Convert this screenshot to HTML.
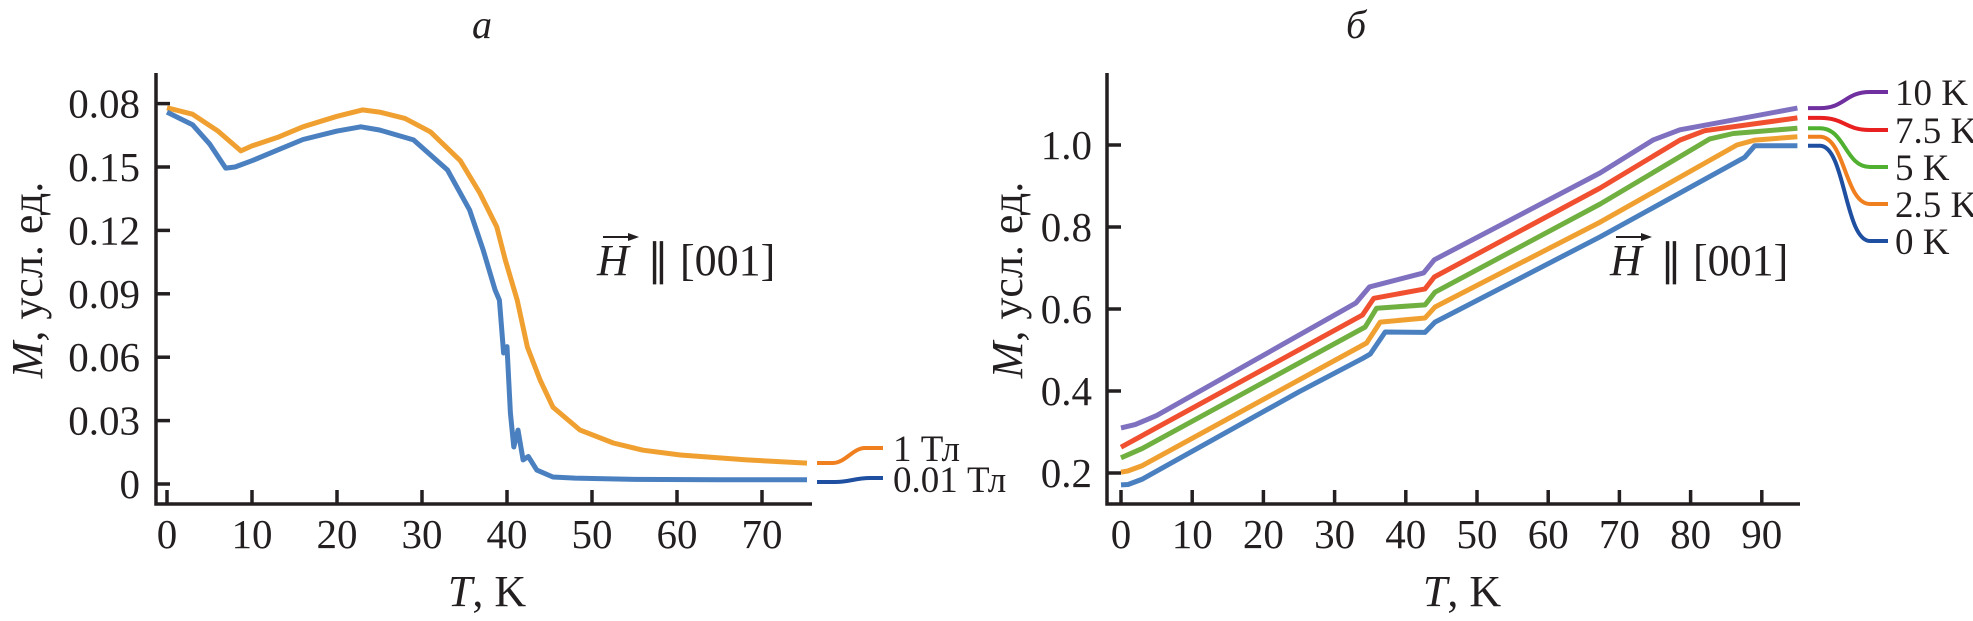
<!DOCTYPE html>
<html><head><meta charset="utf-8"><style>
html,body{margin:0;padding:0;background:#fff}
svg{display:block}
text{font-family:"Liberation Serif",serif;fill:#231f20}
</style></head><body>
<svg id="c" width="1973" height="621" viewBox="0 0 1973 621" xmlns="http://www.w3.org/2000/svg"></svg>
<script>
// ---- Panel a data ----
const aXTicks=[0,10,20,30,40,50,60,70];
const aYTickVals=[0,0.03,0.06,0.09,0.12,0.15,0.18];
const aYTickLabels=["0","0.03","0.06","0.09","0.12","0.15","0.08"];
const aT1=[0,3,6,8.7,10,13,16,20,23,25,28,31,34.5,36.8,38.8,39.8,41.2,42.4,43.9,45.4,48.6,52.5,56,60.4,68.2,75.3];
const aM1=[0.178,0.175,0.167,0.1576,0.160,0.164,0.169,0.174,0.177,0.176,0.173,0.1666,0.153,0.1377,0.1216,0.106,0.087,0.0648,0.0492,0.0364,0.0255,0.0194,0.016,0.0137,0.0114,0.0099];
const aT2=[0,3,5,6.9,8,10,13,16,20,22.8,25,29,33,35.6,37.2,38.6,39.1,39.6,40,40.4,40.8,41.3,41.9,42.5,43.5,45.4,48,55,65,75.3];
const aM2=[0.176,0.170,0.161,0.1495,0.150,0.153,0.158,0.163,0.167,0.169,0.1675,0.1628,0.1486,0.1297,0.1107,0.0918,0.087,0.062,0.065,0.0336,0.0175,0.0255,0.0114,0.013,0.0066,0.0033,0.0028,0.0022,0.002,0.002];
// ---- Panel b data ----
const bXTicks=[0,10,20,30,40,50,60,70,80,90];
const bYTicks=[0.2,0.4,0.6,0.8,1.0];
const bYTickLabels=["0.2","0.4","0.6","0.8","1.0"];
const bT0=[0,1,3,25,34,35,37.1,42.7,44.1,67.3,87.6,89,95];
const bM0=[0.171,0.172,0.185,0.398,0.48,0.49,0.544,0.543,0.568,0.776,0.97,0.998,0.998];
const bT25=[0,1,3,34.5,36.4,42.7,44.1,67.3,86.5,89,95];
const bM25=[0.202,0.205,0.218,0.517,0.568,0.578,0.605,0.812,1.0,1.012,1.02];
const bT5=[0,3,34.3,35.9,42.7,44.1,67.3,82.7,86,95];
const bM5=[0.237,0.26,0.556,0.602,0.61,0.641,0.856,1.015,1.028,1.041];
const bT75=[0,33.9,35.5,42.7,44,67.3,78.5,82,95];
const bM75=[0.263,0.585,0.626,0.649,0.678,0.895,1.012,1.035,1.066];
const bT10=[0,2,5,33,34.9,42.5,44,67.3,74.7,78.5,95];
const bM10=[0.31,0.318,0.34,0.615,0.654,0.688,0.72,0.932,1.012,1.037,1.09];
const bLabels=["0 K","2.5 K","5 K","7.5 K","10 K"];

const NS="http://www.w3.org/2000/svg";
const svg=document.getElementById('c');
function el(tag,attrs,parent){const e=document.createElementNS(NS,tag);for(const k in attrs)e.setAttribute(k,attrs[k]);(parent||svg).appendChild(e);return e;}
function txt(s,attrs,parent){const e=el('text',attrs,parent);e.textContent=s;return e;}

const axA=t=>167+t*8.5;
const ayA=v=>484-v/0.03*63.4;
const axB=t=>1121+t*7.12;
const ayB=v=>473-(v-0.2)*410;
const TF=41;

function pathFrom(T,M,fx,fy){return T.map((t,i)=>(i?'L':'M')+fx(t).toFixed(1)+' '+fy(M[i]).toFixed(1)).join(' ');}

// ---------- Panel a ----------
const ga=el('g',{});


const t1=txt('а',{x:482,y:38,'font-size':40,'font-style':'italic','text-anchor':'middle'},ga);

const axa=el('path',{d:'M156 73 V504 H812',stroke:'#231f20','stroke-width':3.5,fill:'none'},ga);

aYTickVals.forEach((v,i)=>{
  const y=ayA(v);
  const tk=el('line',{x1:156,x2:170,y1:y,y2:y,stroke:'#231f20','stroke-width':3.5},ga);
  
  const l=txt(aYTickLabels[i],{x:140,y:y+14,'font-size':TF,'text-anchor':'end'},ga);
  
});
aXTicks.forEach(t=>{
  const x=axA(t);
  const tk=el('line',{x1:x,x2:x,y1:490,y2:504,stroke:'#231f20','stroke-width':3.5},ga);
  
  const l=txt(String(t),{x:x,y:548,'font-size':TF,'text-anchor':'middle'},ga);
  
});
const xta=txt('',{x:487,y:606,'font-size':44,'text-anchor':'middle'},ga);
xta.innerHTML='<tspan font-style="italic">T</tspan>, K';

const yta=txt('',{transform:'translate(42,280) rotate(-90)','font-size':44,'text-anchor':'middle'},ga);
yta.innerHTML='<tspan font-style="italic">M</tspan>, усл. ед.';

const s1=el('path',{d:pathFrom(aT1,aM1,axA,ayA),stroke:'#f0a030','stroke-width':5,fill:'none','stroke-linejoin':'round'},ga);

const s2=el('path',{d:pathFrom(aT2,aM2,axA,ayA),stroke:'#4a80c0','stroke-width':5,fill:'none','stroke-linejoin':'round'},ga);

function hLabel(x,y,parent){
  const g=el('g',{},parent);
  txt('H',{x:x,y:y,'font-size':44,'font-style':'italic'},g);
  el('path',{d:`M${x+6} ${y-38} H${x+38}`,stroke:'#231f20','stroke-width':2},g);
  el('path',{d:`M${x+42} ${y-38} l-11 -4 v8 z`,fill:'#231f20'},g);
  txt('∥ [001]',{x:x+50,y:y,'font-size':44},g);
  return g;
}
const ha=hLabel(597,275,ga);

const la=el('path',{d:'M817 463 H833 C845 463 853 448 865 448 H883',stroke:'#f07f20','stroke-width':4,fill:'none'},ga);

const lb=el('path',{d:'M817 482 H835 C850 482 855 478 870 478 H883',stroke:'#1f4fa0','stroke-width':4,fill:'none'},ga);

const lt1=txt('1 Тл',{x:893,y:461,'font-size':37},ga);

const lt2=txt('0.01 Тл',{x:893,y:492,'font-size':37},ga);


// ---------- Panel b ----------
const gb=el('g',{});


const t2=txt('б',{x:1356,y:38,'font-size':40,'font-style':'italic','text-anchor':'middle'},gb);

const axb=el('path',{d:'M1107 73 V504 H1800',stroke:'#231f20','stroke-width':3.5,fill:'none'},gb);

bYTicks.forEach((v,i)=>{
  const y=ayB(v);
  const tk=el('line',{x1:1107,x2:1121,y1:y,y2:y,stroke:'#231f20','stroke-width':3.5},gb);
  
  const l=txt(bYTickLabels[i],{x:1092,y:y+14,'font-size':TF,'text-anchor':'end'},gb);
  
});
bXTicks.forEach(t=>{
  const x=axB(t);
  const tk=el('line',{x1:x,x2:x,y1:490,y2:504,stroke:'#231f20','stroke-width':3.5},gb);
  
  const l=txt(String(t),{x:x,y:548,'font-size':TF,'text-anchor':'middle'},gb);
  
});
const xtb=txt('',{x:1462,y:606,'font-size':44,'text-anchor':'middle'},gb);
xtb.innerHTML='<tspan font-style="italic">T</tspan>, K';

const ytb=txt('',{transform:'translate(1022,280) rotate(-90)','font-size':44,'text-anchor':'middle'},gb);
ytb.innerHTML='<tspan font-style="italic">M</tspan>, усл. ед.';

const bSeriesT=[bT0,bT25,bT5,bT75,bT10];
const bSeriesM=[bM0,bM25,bM5,bM75,bM10];
const bCols=['#4a80c0','#f0a030','#70b040','#f05030','#8070c0'];
const bLegCols=['#1f4fa0','#f07f20','#50b030','#e82020','#7030a0'];
const legEndY=[241,204,167,130,92];
bSeriesT.forEach((T,i)=>{
  const p=el('path',{d:pathFrom(T,bSeriesM[i],axB,ayB),stroke:bCols[i],'stroke-width':5,fill:'none','stroke-linejoin':'round'},gb);
  
  
  const y0=ayB(bSeriesM[i][bSeriesM[i].length-1]);
  const y1=legEndY[i];
  const lp=el('path',{d:`M1808 ${y0.toFixed(1)} H1820 C1845 ${y0.toFixed(1)} 1845 ${y1} 1870 ${y1} H1888`,stroke:bLegCols[i],'stroke-width':4,fill:'none'},gb);
  
  
  const lt=txt(bLabels[i],{x:1895,y:y1+13,'font-size':37},gb);
  
  
});
const hb=hLabel(1610,275,gb);

</script>
</body></html>
